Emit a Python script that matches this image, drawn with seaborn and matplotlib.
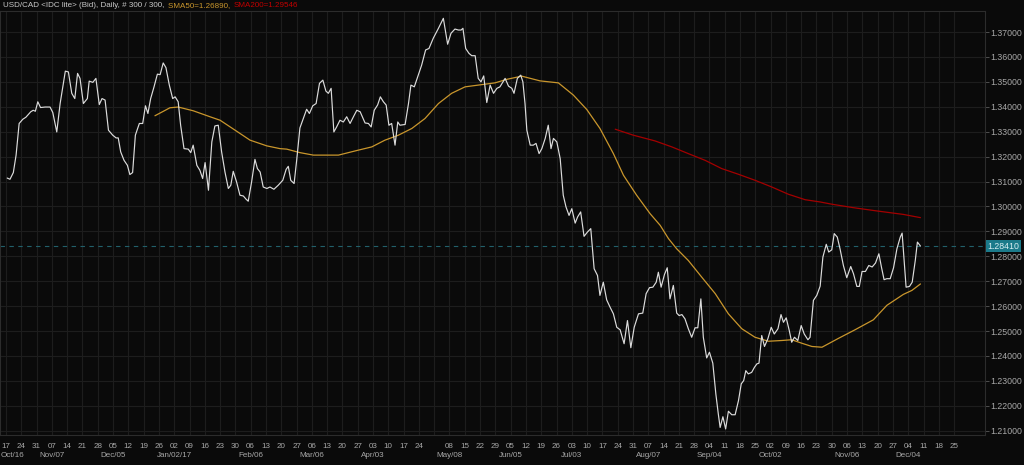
import numpy as np
import pandas as pd
import matplotlib
matplotlib.use("Agg")
import matplotlib.pyplot as plt
import seaborn as sns
from matplotlib.transforms import blended_transform_factory

# ---------------- data (bar index = trading day since Oct 17 2016) ----------------
price_day = [0.4, 1.3, 2.4, 3.3, 4.3, 5.5, 6.5, 8.1, 8.9, 9.6, 10.4, 11.3, 12.8, 14.4, 15.3, 16.6, 17.7, 19.4, 20.4, 21.5,
             22.5, 23.4, 24.2, 25.3, 26.6, 27.2, 28.4, 29.4, 30.5, 31.4, 32.4, 33.5, 34.9, 36.0, 36.7, 37.5, 38.6, 39.7, 40.5, 41.4,
             42.3, 43.6, 44.7, 45.6, 46.4, 47.3, 48.4, 49.5, 50.4, 51.4, 52.3, 53.4, 54.5, 55.3, 56.3, 57.1, 58.2, 59.6, 60.4, 61.2,
             62.4, 63.4, 64.3, 65.1, 66.2, 67.3, 68.3, 69.4, 70.5, 71.6, 72.7, 73.5, 74.3, 75.4, 76.5, 77.6, 78.5, 79.2, 80.3, 81.4,
             82.2, 83.1, 84.1, 85.3, 86.3, 87.6, 89.0, 90.5, 91.6, 92.3, 93.1, 94.2, 95.1, 96.1, 97.2, 98.3, 99.2, 100.3, 101.4, 102.5,
             103.6, 104.6, 105.4, 106.3, 107.2, 108.1, 109.2, 110.3, 111.4, 112.5, 113.6, 114.7, 115.8, 117.4, 118.5, 119.4, 120.4, 121.5, 122.4, 123.4,
             124.3, 125.2, 126.1, 127.2, 128.1, 128.8, 130.5, 131.6, 132.4, 133.5, 134.8, 135.9, 137.2, 138.3, 139.7, 141.4, 143.0, 144.4, 145.5, 146.8,
             147.9, 148.8, 149.4, 150.3, 151.4, 152.3, 153.4, 154.4, 155.3, 156.2, 157.2, 158.3, 159.4, 160.5, 161.5, 163.2, 164.3, 165.4, 166.1, 167.2,
             168.3, 169.0, 169.7, 170.3, 171.4, 172.4, 173.3, 174.3, 175.2, 176.3, 177.3, 178.2, 179.0, 180.1, 181.2, 182.2, 183.1, 184.1, 185.0, 186.1,
             186.9, 187.9, 189.0, 190.1, 191.2, 192.3, 193.4, 194.2, 195.3, 196.4, 197.5, 198.6, 199.7, 200.8, 202.1, 203.2, 204.3, 205.4, 206.8, 208.2,
             209.3, 210.4, 211.5, 212.6, 213.3, 214.2, 215.3, 216.2, 217.1, 218.2, 219.3, 220.1, 221.0, 222.0, 223.1, 224.2, 225.3, 226.2, 227.2, 228.0,
             229.1, 230.0, 231.1, 232.1, 232.9, 233.5, 234.4, 235.3, 236.2, 237.3, 238.4, 239.5, 240.4, 241.2, 241.9, 242.7, 243.8, 244.7, 245.5, 246.2,
             247.1, 248.0, 249.1, 250.2, 251.2, 252.4, 253.4, 254.2, 255.1, 256.1, 256.9, 257.8, 258.9, 260.0, 261.0, 262.2, 262.9, 264.0, 265.1, 266.2,
             267.1, 268.2, 269.0, 270.0, 270.8, 271.8, 272.7, 273.8, 274.9, 276.2, 277.1, 278.2, 279.0, 279.9, 281.0, 282.1, 283.2, 284.3, 285.4, 286.2,
             287.1, 288.0, 289.1, 290.2, 291.3, 292.4, 293.0, 294.3, 295.4, 296.3, 297.3, 298.0, 299.0]
price_val = [1.3114, 1.3109, 1.3136, 1.3206, 1.3333, 1.3350, 1.3358, 1.3380, 1.3386, 1.3382, 1.3420, 1.3397, 1.3399, 1.3399, 1.3377, 1.3299, 1.3413, 1.3543, 1.3540, 1.3454,
             1.3433, 1.3534, 1.3514, 1.3413, 1.3433, 1.3503, 1.3498, 1.3514, 1.3409, 1.3433, 1.3427, 1.3306, 1.3286, 1.3275, 1.3275, 1.3219, 1.3185, 1.3165, 1.3128, 1.3136,
             1.3286, 1.3333, 1.3333, 1.3404, 1.3373, 1.3433, 1.3480, 1.3531, 1.3529, 1.3576, 1.3557, 1.3487, 1.3433, 1.3440, 1.3420, 1.3326, 1.3232, 1.3230, 1.3216, 1.3246,
             1.3165, 1.3145, 1.3112, 1.3176, 1.3065, 1.3259, 1.3323, 1.3326, 1.3219, 1.3138, 1.3072, 1.3085, 1.3141, 1.3098, 1.3045, 1.3042, 1.3029, 1.3021, 1.3098, 1.3189,
             1.3152, 1.3138, 1.3078, 1.3072, 1.3078, 1.3069, 1.3085, 1.3105, 1.3149, 1.3161, 1.3105, 1.3092, 1.3192, 1.3315, 1.3353, 1.3390, 1.3373, 1.3404, 1.3413, 1.3494,
             1.3507, 1.3463, 1.3454, 1.3474, 1.3299, 1.3319, 1.3346, 1.3339, 1.3360, 1.3333, 1.3360, 1.3386, 1.3380, 1.3335, 1.3333, 1.3319, 1.3386, 1.3407, 1.3440, 1.3420,
             1.3407, 1.3326, 1.3333, 1.3246, 1.3339, 1.3326, 1.3329, 1.3413, 1.3487, 1.3480, 1.3527, 1.3567, 1.3628, 1.3634, 1.3675, 1.3715, 1.3755, 1.3651, 1.3695, 1.3712,
             1.3708, 1.3708, 1.3715, 1.3634, 1.3614, 1.3605, 1.3605, 1.3514, 1.3500, 1.3524, 1.3417, 1.3487, 1.3454, 1.3474, 1.3480, 1.3514, 1.3483, 1.3474, 1.3454, 1.3514,
             1.3527, 1.3500, 1.3413, 1.3306, 1.3246, 1.3246, 1.3253, 1.3212, 1.3232, 1.3273, 1.3326, 1.3232, 1.3273, 1.3259, 1.3192, 1.3045, 1.2998, 1.2964, 1.2991, 1.2933,
             1.2958, 1.2978, 1.2880, 1.2897, 1.2911, 1.2750, 1.2723, 1.2643, 1.2696, 1.2625, 1.2596, 1.2569, 1.2515, 1.2505, 1.2449, 1.2542, 1.2433, 1.2515, 1.2569, 1.2572,
             1.2650, 1.2674, 1.2676, 1.2696, 1.2736, 1.2676, 1.2727, 1.2754, 1.2629, 1.2683, 1.2572, 1.2562, 1.2566, 1.2549, 1.2509, 1.2475, 1.2513, 1.2513, 1.2629, 1.2475,
             1.2392, 1.2415, 1.2371, 1.2247, 1.2167, 1.2113, 1.2156, 1.2107, 1.2178, 1.2164, 1.2164, 1.2221, 1.2288, 1.2301, 1.2341, 1.2328, 1.2334, 1.2354, 1.2368, 1.2371,
             1.2482, 1.2438, 1.2469, 1.2515, 1.2488, 1.2509, 1.2566, 1.2535, 1.2553, 1.2502, 1.2455, 1.2475, 1.2462, 1.2522, 1.2488, 1.2465, 1.2475, 1.2623, 1.2643, 1.2680,
             1.2797, 1.2848, 1.2817, 1.2826, 1.2891, 1.2877, 1.2830, 1.2763, 1.2714, 1.2759, 1.2730, 1.2679, 1.2679, 1.2739, 1.2739, 1.2763, 1.2757, 1.2773, 1.2810, 1.2759,
             1.2706, 1.2710, 1.2710, 1.2754, 1.2830, 1.2877, 1.2893, 1.2676, 1.2679, 1.2696, 1.2783, 1.2857, 1.2841]

sma50_day = [48.7, 50.4, 53.6, 56.3, 61.2, 66.7, 70.0, 75.4, 79.8, 85.3, 89.6, 91.8, 96.1, 100.5, 106.0, 108.7, 115.2, 119.6,
             123.9, 128.3, 132.7, 137.0, 141.4, 145.7, 150.1, 154.4, 159.9, 163.7, 168.6, 174.6, 180.6, 185.5, 189.9, 194.2,
             198.6, 201.9, 206.2, 210.6, 213.9, 216.6, 219.3, 223.1, 227.5, 231.9, 236.2, 240.6, 244.9, 249.3, 253.7, 256.9,
             260.2, 263.5, 266.8, 272.1, 277.6, 283.6, 288.0, 293.4, 296.2, 299.0]
sma50_val = [1.3364, 1.3375, 1.3396, 1.3399, 1.3384, 1.3360, 1.3346, 1.3302, 1.3266, 1.3243, 1.3232, 1.3230, 1.3216, 1.3206, 1.3206, 1.3206, 1.3226, 1.3239,
             1.3266, 1.3286, 1.3313, 1.3353, 1.3413, 1.3454, 1.3480, 1.3487, 1.3496, 1.3510, 1.3523, 1.3504, 1.3496, 1.3447, 1.3389, 1.3313,
             1.3212, 1.3125, 1.3045, 1.2971, 1.2924, 1.2871, 1.2830, 1.2783, 1.2716, 1.2650, 1.2569, 1.2509, 1.2475, 1.2459, 1.2462, 1.2465,
             1.2451, 1.2438, 1.2435, 1.2470, 1.2505, 1.2545, 1.2603, 1.2647, 1.2663, 1.2689]

sma200_day = [199.2, 205.1, 212.2, 217.7, 223.1, 228.6, 234.0, 239.5, 244.9, 250.4, 255.8, 261.3, 266.2, 270.0, 277.1, 284.7, 293.4, 299.0]
sma200_val = [1.3310, 1.3286, 1.3263, 1.3239, 1.3212, 1.3185, 1.3152, 1.3129, 1.3105, 1.3078, 1.3049, 1.3027, 1.3018, 1.3009, 1.2995, 1.2982, 1.2968, 1.2955]

last_price = 1.28410
sma50_last = 1.26890
sma200_last = 1.29546

week_labels = ["17", "24", "31", "07", "14", "21", "28", "05", "12", "19", "26", "02", "09", "16", "23", "30",
               "06", "13", "20", "27", "06", "13", "20", "27", "03", "10", "17", "24", "", "08", "15", "22", "29",
               "05", "12", "19", "26", "03", "10", "17", "24", "31", "07", "14", "21", "28", "04", "11", "18", "25",
               "02", "09", "16", "23", "30", "06", "13", "20", "27", "04", "11", "18", "25"]
month_week = [3, 7, 11, 16, 20, 24, 29, 33, 37, 42, 46, 50, 55, 59]
month_labels = ["Nov/07", "Dec/05", "Jan/02/17", "Feb/06", "Mar/06", "Apr/03", "May/08", "Jun/05",
                "Jul/03", "Aug/07", "Sep/04", "Oct/02", "Nov/06", "Dec/04"]
first_month_label = "Oct/16"
y_ticks = [1.21, 1.22, 1.23, 1.24, 1.25, 1.26, 1.27, 1.28, 1.29, 1.30, 1.31, 1.32, 1.33, 1.34, 1.35, 1.36, 1.37]

# ---------------- style ----------------
BG = "#0a0a0a"
GRID = "#1d1d1d"
TXT = "#a8a8a8"
sns.set_style("dark")
plt.rcParams.update({
    "font.family": ["Liberation Sans", "DejaVu Sans"],
    "figure.facecolor": BG,
    "axes.facecolor": BG,
    "savefig.facecolor": BG,
})

fig = plt.figure(figsize=(10.24, 4.65), dpi=100)
W, H = 1024, 465
ax = fig.add_axes([0, 30 / H, 985 / W, 424 / H])
ax.set_facecolor(BG)

df_p = pd.DataFrame({"day": price_day, "price": price_val})
df_50 = pd.DataFrame({"day": sma50_day, "sma": sma50_val})
df_200 = pd.DataFrame({"day": sma200_day, "sma": sma200_val})

ax.axhline(last_price, color="#21606a", lw=0.8, dashes=(4, 4), zorder=2)
sns.lineplot(data=df_50, x="day", y="sma", ax=ax, color="#c9962c", lw=0.9, estimator=None, zorder=3)
sns.lineplot(data=df_200, x="day", y="sma", ax=ax, color="#a30000", lw=0.9, estimator=None, zorder=3)
sns.lineplot(data=df_p, x="day", y="price", ax=ax, color="#dcdcdc", lw=0.85, estimator=None, zorder=4)

ax.set_xlim(-1.96, 320.1)
ax.set_ylim(1.20827, 1.37844)
ax.set_xlabel("")
ax.set_ylabel("")

# y axis on the right
ax.yaxis.tick_right()
ax.set_yticks(y_ticks)
ax.set_yticklabels([f"{v:.5f}" for v in y_ticks])
ax.tick_params(axis="y", direction="out", length=3, width=0.6, color="#5a5a5a",
               labelcolor=TXT, labelsize=6.3, pad=1, right=True, left=False)

# x axis: weekly ticks
week_pos = [5 * k for k in range(len(week_labels))]
ax.set_xticks(week_pos)
ax.set_xticklabels(week_labels)
ax.tick_params(axis="x", direction="out", length=3, width=0.6, color="#5a5a5a",
               labelcolor=TXT, labelsize=5.8, pad=2.5)

ax.grid(True, color=GRID, lw=0.8)
for s in ax.spines.values():
    s.set_visible(True)
    s.set_color("#2c2c2c")
    s.set_linewidth(0.8)

# month labels
tr = blended_transform_factory(ax.transData, fig.transFigure)
for k, lab in zip(month_week, month_labels):
    ax.text(5 * k, 1 - 455 / H, lab, transform=tr, ha="center", va="center",
            fontsize=5.8, color=TXT, clip_on=False)
fig.text(0.5 / W, 1 - 455 / H, first_month_label, ha="left", va="center", fontsize=5.8, color=TXT)

# last price tag
trp = blended_transform_factory(ax.transAxes, ax.transData)
ax.text(1.0025, last_price, f"{last_price:.5f}", transform=trp, ha="left", va="center",
        fontsize=6.3, color="#d8eef2", clip_on=False, zorder=6,
        bbox=dict(boxstyle="square,pad=0.18", fc="#1b7a8a", ec="none"))

# title made of coloured parts
parts = [("USD/CAD <IDC lite> (Bid), Daily, # 300 / 300, ", "#c8c8c8"),
         (f"SMA50={sma50_last:.5f}, ", "#c9962c"),
         (f"SMA200={sma200_last:.5f}", "#c00000")]
renderer = fig.canvas.get_renderer()
x0 = 3
for txt, col in parts:
    t = fig.text(x0 / W, 1 - 5.5 / H, txt, ha="left", va="center", fontsize=5.8, color=col)
    bb = t.get_window_extent(renderer=renderer)
    x0 = bb.x1 + 1.5

fig.savefig("out.png", dpi=100, facecolor=BG)
